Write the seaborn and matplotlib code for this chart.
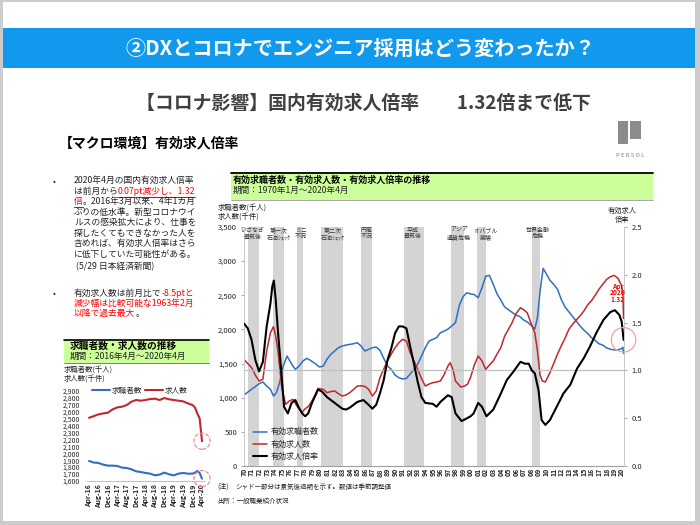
import matplotlib
matplotlib.use("Agg")
import numpy as np
import pandas as pd
import matplotlib.pyplot as plt
import seaborn as sns
from matplotlib.patches import Rectangle
from matplotlib.lines import Line2D

# ---------------- data ----------------
# main chart: 有効求職者数 (千人)
seekers_year = [1970.0, 1971.0, 1972.0, 1972.5, 1973.0, 1973.5, 1973.9, 1974.3, 1974.7, 1975.2,
                1975.7, 1976.3, 1976.8, 1977.3, 1977.8, 1978.3, 1978.8, 1979.5, 1980.0, 1980.5,
                1981.0, 1981.5, 1982.0, 1982.5, 1983.0, 1983.5, 1984.0, 1984.5, 1985.0, 1985.5,
                1986.0, 1986.5, 1987.0, 1987.5, 1988.0, 1988.5, 1989.0, 1989.5, 1990.0, 1990.5,
                1991.0, 1991.5, 1992.0, 1992.5, 1993.0, 1993.5, 1994.0, 1994.5, 1995.0, 1995.5,
                1996.0, 1996.5, 1997.0, 1997.5, 1998.0, 1998.5, 1999.0, 1999.5, 2000.0, 2000.5,
                2001.0, 2001.5, 2002.0, 2002.5, 2003.0, 2003.5, 2004.0, 2004.5, 2005.0, 2005.5,
                2006.0, 2006.5, 2007.0, 2007.5, 2008.0, 2008.5, 2008.85, 2009.2, 2009.6, 2010.0,
                2010.5, 2011.0, 2011.5, 2012.0, 2012.5, 2013.0, 2013.5, 2014.0, 2014.5, 2015.0,
                2015.5, 2016.0, 2016.5, 2017.0, 2017.5, 2018.0, 2018.5, 2019.0, 2019.5, 2020.0,
                2020.17, 2020.25]
seekers_k = [1040, 1123, 1205, 1230, 1171, 1123, 1025, 1074, 1220, 1464,
             1610, 1493, 1415, 1464, 1537, 1577, 1547, 1493, 1450, 1464,
             1566, 1635, 1684, 1732, 1757, 1771, 1781, 1790, 1805, 1757,
             1684, 1708, 1732, 1742, 1693, 1577, 1464, 1415, 1332, 1293,
             1274, 1283, 1347, 1415, 1493, 1610, 1732, 1830, 1855, 1879,
             1952, 1976, 2005, 2050, 2099, 2350, 2480, 2537, 2520, 2510,
             2464, 2610, 2780, 2790, 2660, 2520, 2430, 2330, 2290, 2250,
             2210, 2190, 2140, 2110, 2060, 2006, 2172, 2562, 2894, 2820,
             2720, 2660, 2590, 2440, 2330, 2260, 2190, 2120, 2050, 1990,
             1940, 1880, 1840, 1790, 1770, 1730, 1710, 1700, 1700, 1720,
             1740, 1650]

# main chart: 有効求人数 (千件)
offers_year = [1970.0, 1970.5, 1971.0, 1971.5, 1972.0, 1972.5, 1973.0, 1973.5, 1973.9, 1974.2,
               1974.5, 1975.0, 1975.5, 1976.0, 1976.5, 1977.0, 1977.7, 1978.0, 1978.5, 1979.0,
               1979.5, 1979.8, 1980.5, 1981.0, 1981.5, 1982.0, 1982.5, 1983.0, 1983.5, 1984.0,
               1984.5, 1985.0, 1985.5, 1986.0, 1986.5, 1987.0, 1987.5, 1988.0, 1988.5, 1989.0,
               1989.5, 1990.0, 1990.5, 1991.0, 1991.5, 1992.0, 1992.5, 1993.0, 1993.5, 1994.0,
               1994.5, 1995.0, 1995.5, 1996.0, 1996.5, 1997.0, 1997.3, 1997.7, 1998.0, 1998.7,
               1999.2, 1999.6, 2000.0, 2000.5, 2001.0, 2001.5, 2002.0, 2002.5, 2003.0, 2003.5,
               2004.0, 2004.5, 2005.0, 2005.5, 2006.0, 2006.6, 2007.0, 2007.5, 2008.0, 2008.5,
               2008.8, 2009.2, 2009.5, 2009.9, 2010.5, 2011.0, 2011.4, 2012.0, 2012.5, 2013.0,
               2013.5, 2014.0, 2014.5, 2015.0, 2015.5, 2016.0, 2016.5, 2017.0, 2017.5, 2018.0,
               2018.5, 2019.0, 2019.5, 2020.0, 2020.17, 2020.25]
offers_k = [1562, 1500, 1440, 1330, 1245, 1269, 1684, 1952, 2040, 1900,
            1684, 1147, 903, 952, 976, 878, 780, 830, 870, 952,
            1060, 1137, 1123, 1074, 1090, 1098, 1060, 1025, 1040, 1074,
            1120, 1171, 1175, 1165, 1123, 1025, 1098, 1293, 1420, 1537,
            1640, 1732, 1805, 1855, 1830, 1659, 1540, 1415, 1280, 1171,
            1200, 1220, 1230, 1245, 1340, 1464, 1513, 1400, 1245, 1157,
            1171, 1200, 1300, 1480, 1611, 1540, 1415, 1480, 1537, 1640,
            1732, 1900, 2000, 2100, 2230, 2318, 2290, 2245, 2090, 1950,
            1732, 1330, 1245, 1230, 1366, 1500, 1611, 1760, 1870, 2000,
            2074, 2140, 2200, 2270, 2360, 2420, 2500, 2590, 2660, 2733,
            2770, 2792, 2750, 2640, 2500, 2160]

# main chart: 有効求人倍率
ratio_year = [1970.0, 1970.5, 1971.0, 1971.5, 1972.0, 1972.5, 1973.0, 1973.5, 1973.75, 1973.95,
              1974.2, 1974.5, 1975.0, 1975.3, 1975.8, 1976.3, 1976.8, 1977.2, 1977.7, 1978.1,
              1978.5, 1979.0, 1979.8, 1980.3, 1981.0, 1982.0, 1983.0, 1983.5, 1984.0, 1985.0,
              1985.8, 1986.5, 1987.0, 1987.5, 1988.0, 1988.5, 1989.0, 1989.5, 1990.0, 1990.5,
              1991.0, 1991.5, 1992.0, 1992.5, 1993.0, 1993.5, 1994.0, 1995.0, 1995.5, 1996.0,
              1997.0, 1997.5, 1998.0, 1998.8, 1999.3, 2000.0, 2000.4, 2001.0, 2001.5, 2002.1,
              2003.0, 2003.9, 2004.8, 2005.7, 2006.6, 2007.2, 2007.7, 2008.1, 2008.5, 2009.0,
              2009.4, 2009.9, 2010.5, 2011.4, 2012.3, 2013.2, 2014.1, 2015.0, 2015.8, 2016.7,
              2017.6, 2018.5, 2019.1, 2019.7, 2020.0, 2020.17, 2020.25]
ratio_vals = [1.49, 1.44, 1.32, 1.11, 0.99, 1.09, 1.46, 1.70, 1.88, 1.94,
              1.74, 1.40, 0.93, 0.62, 0.55, 0.66, 0.69, 0.62, 0.55, 0.52,
              0.55, 0.66, 0.80, 0.78, 0.72, 0.66, 0.60, 0.59, 0.61, 0.67,
              0.69, 0.64, 0.60, 0.64, 0.76, 0.90, 1.11, 1.23, 1.39, 1.46,
              1.46, 1.44, 1.25, 1.07, 0.88, 0.72, 0.66, 0.65, 0.62, 0.67,
              0.74, 0.72, 0.55, 0.47, 0.49, 0.52, 0.55, 0.66, 0.62, 0.52,
              0.59, 0.74, 0.90, 0.99, 1.09, 1.07, 1.07, 1.00, 0.97, 0.79,
              0.48, 0.43, 0.48, 0.62, 0.76, 0.85, 1.02, 1.13, 1.25, 1.40,
              1.53, 1.61, 1.63, 1.58, 1.51, 1.39, 1.32]

# recession periods (景気後退期)
recession_start = [1970.58, 1973.9, 1977.05, 1980.15, 1985.45, 1991.15, 1997.45, 2000.9, 2008.15]
recession_end = [1972.0, 1975.25, 1977.85, 1983.15, 1986.95, 1993.85, 1999.1, 2002.1, 2009.25]
recession_label = ["いざなぎ\n景気後", "第一次\n石油ｼｮｯｸ", "ミニ\n不況", "第二次\n石油ｼｮｯｸ", "円高\n不況",
                   "平成\n景気後", "アジア\n通貨危機", "ITバブル\n崩壊", "世界金融\n危機"]
recession_label_x = [1971.1, 1974.6, 1977.5, 1981.8, 1986.25, 1992.35, 1998.45, 2002.0, 2008.95]

# small chart: Apr-2016 .. Apr-2020, month index 0..48
small_month = [0, 2, 4, 6, 8, 10, 12, 14, 16, 18, 20, 22, 24, 26, 28, 30, 32, 34, 36, 38,
               40, 42, 44, 45, 46, 47, 48]
small_offers = [2513, 2537, 2562, 2576, 2586, 2634, 2663, 2673, 2697, 2745, 2770, 2760, 2770, 2784,
                2789, 2770, 2799, 2780, 2770, 2760, 2750, 2721, 2697, 2663, 2576, 2504, 2175]
small_seekers = [1890, 1866, 1861, 1837, 1822, 1822, 1817, 1793, 1788, 1769, 1740, 1730, 1716, 1706,
                 1682, 1692, 1721, 1697, 1682, 1706, 1716, 1706, 1706, 1720, 1745, 1716, 1634]
small_tick_labels = ["Apr-16", "Aug-16", "Dec-16", "Apr-17", "Aug-17", "Dec-17", "Apr-18",
                     "Aug-18", "Dec-18", "Apr-19", "Aug-19", "Dec-19", "Apr-20"]

# ---------------- style ----------------
sns.set_style("white")
plt.rcParams["font.family"] = ["Noto Sans CJK JP", "DejaVu Sans"]

BLUE = "#2f6fc3"
RED = "#c0282d"
TXT_RED = "#ff0000"
GREEN = "#ccff99"
BAND = "#d4d4d4"

W, H = 700, 525
fig = plt.figure(figsize=(7, 5.25), dpi=100)
fig.patch.set_facecolor("#cccccc")


def fx(x):
    return x / W


def fy(y):
    return 1 - y / H


def rect(x0, y0, x1, y1, **kw):
    r = Rectangle((fx(x0), fy(y1)), (x1 - x0) / W, (y1 - y0) / H,
                  transform=fig.transFigure, **kw)
    fig.add_artist(r)
    return r


def hline(x0, x1, y, **kw):
    fig.add_artist(Line2D([fx(x0), fx(x1)], [fy(y), fy(y)], transform=fig.transFigure, **kw))


def ftext(x, y, s, **kw):
    kw.setdefault("va", "center")
    return fig.text(fx(x), fy(y), s, **kw)


# slide background
rect(3, 2, 695, 521, facecolor="white", edgecolor="none", zorder=-10)
# title banner
rect(3, 28, 695, 68, facecolor="#1199ee", edgecolor="none", zorder=-9)
ftext(360, 48, "②DXとコロナでエンジニア採用はどう変わったか？", color="white",
      fontsize=14.5, fontweight="bold", ha="center")
ftext(363, 103, "【コロナ影響】国内有効求人倍率　　1.32倍まで低下", color="#404040",
      fontsize=13.6, fontweight="bold", ha="center")
ftext(59, 143, "【マクロ環境】有効求人倍率", color="black", fontsize=10,
      fontweight="bold", ha="left")

# PERSOL logo
rect(618, 121, 628, 144, facecolor="#8c8c8c", edgecolor="none", zorder=-8)
rect(630, 121, 641, 139, facecolor="#8c8c8c", edgecolor="none", zorder=-8)
ftext(630, 155, "P E R S O L", color="#808080", fontsize=4.2, ha="center")

# bullet text
renderer = fig.canvas.get_renderer()


def seg_line(x0, y, segs, size=6.3):
    x = x0
    for s, c, ul in segs:
        t = ftext(x, y, s, color=c, fontsize=size, ha="left")
        bb = t.get_window_extent(renderer=renderer)
        if ul:
            hline(x, x + bb.width, y + 5.2, color=c, lw=0.8)
        x += bb.width


K = "#222222"
bullet1 = [
    [("2020年4月の国内有効求人倍率", K, False)],
    [("は前月から", K, False), ("0.07pt減少し、1.32", TXT_RED, True)],
    [("倍", TXT_RED, True), ("。2016年3月以来、4年1カ月", K, False)],
    [("ぶりの低水準。新型コロナウイ", K, False)],
    [("ルスの感染拡大により、仕事を", K, False)],
    [("探したくてもできなかった人を", K, False)],
    [("含めれば、有効求人倍率はさら", K, False)],
    [("に低下していた可能性がある。", K, False)],
    [(" (5/29 日本経済新聞)", K, False)],
]
ys1 = [180.7, 191.5, 201.8, 212.2, 222.6, 233.2, 243.8, 254.6, 266.5]
ftext(53, 181, "•", color=K, fontsize=6.3, ha="left")
for segs, y in zip(bullet1, ys1):
    seg_line(74, y, segs)

bullet2 = [
    [("有効求人数は前月比で", K, False), ("-8.5ptと", TXT_RED, False)],
    [("減少幅は比較可能な1963年2月", TXT_RED, False)],
    [("以降で過去最大", TXT_RED, False), ("。", K, False)],
]
ys2 = [293.3, 303.5, 313.7]
ftext(53, 293.5, "•", color=K, fontsize=6.3, ha="left")
for segs, y in zip(bullet2, ys2):
    seg_line(74, y, segs)

# ---------------- main chart ----------------
rect(231, 173, 653, 200, facecolor=GREEN, edgecolor="none", zorder=-8)
hline(231, 653, 173.3, color="black", lw=1.3)
hline(231, 653, 200, color="#9a9a9a", lw=0.6)
ftext(233, 180.5, "有効求職者数・有効求人数・有効求人倍率の推移", fontsize=6.5,
      fontweight="bold", ha="left", color="black")
ftext(233, 190.7, "期間：1970年1月～2020年4月", fontsize=6.2, ha="left", color="#222222")
ftext(218, 207.7, "求職者数(千人)", fontsize=5.3, ha="left", color="#222222")
ftext(218, 216.7, "求人数(千件)", fontsize=5.3, ha="left", color="#222222")
ftext(622, 210.7, "有効求人", fontsize=5.2, ha="center", color="#222222")
ftext(622, 220, "倍率", fontsize=5.2, ha="center", color="#222222")

ax = fig.add_axes([fx(244), fy(466), (624.3 - 244) / W, (466 - 227) / H])
ax.set_facecolor("none")
for s0, s1 in zip(recession_start, recession_end):
    ax.axvspan(s0, s1, color=BAND, lw=0, zorder=0)

main_df = pd.concat([
    pd.DataFrame({"year": seekers_year, "value": seekers_k, "series": "有効求職者数"}),
    pd.DataFrame({"year": offers_year, "value": offers_k, "series": "有効求人数"}),
])
sns.lineplot(data=main_df, x="year", y="value", hue="series",
             palette={"有効求職者数": BLUE, "有効求人数": RED},
             ax=ax, legend=False, linewidth=1.1, estimator=None)
ax.set_xlim(1970, 2020.35)
ax.set_ylim(0, 3500)
ax.set_xticks(range(1970, 2021))
ax.set_xticklabels([f"{y % 100:02d}" for y in range(1970, 2021)], rotation=90,
                   fontsize=5.0, fontweight="bold")
ax.set_yticks(range(0, 3501, 500))
ax.set_yticklabels([f"{v:,}" for v in range(0, 3501, 500)], fontsize=5.5)
ax.set_xlabel("")
ax.set_ylabel("")
ax.tick_params(axis="y", length=2.5, width=0.6, color="#999999", pad=2.5)
ax.tick_params(axis="x", length=0, pad=1.5)
for sp in ["top", "right"]:
    ax.spines[sp].set_visible(False)
ax.spines["left"].set_color("#c8c8c8")
ax.spines["left"].set_linewidth(0.7)
ax.spines["bottom"].set_color("#a0a0a0")
ax.spines["bottom"].set_linewidth(0.8)

for lx, lab in zip(recession_label_x, recession_label):
    ax.text(lx, 0.997, lab, transform=ax.get_xaxis_transform(), ha="center", va="top",
            fontsize=4.3, linespacing=1.25, color="#333333", zorder=3)

ax2 = ax.twinx()
ax2.axhline(1.0, color="#c0c0c0", lw=0.9, zorder=1)
ratio_df = pd.DataFrame({"year": ratio_year, "ratio": ratio_vals})
sns.lineplot(data=ratio_df, x="year", y="ratio", color="black", ax=ax2,
             linewidth=1.5, estimator=None)
ax2.set_ylim(0, 2.5)
ax2.set_xlim(1970, 2020.35)
ax2.set_yticks(np.arange(0, 2.51, 0.5))
ax2.set_yticklabels([f"{v:.1f}" for v in np.arange(0, 2.51, 0.5)], fontsize=5.5)
ax2.set_ylabel("")
ax2.tick_params(axis="y", length=2.5, width=0.6, color="#999999", pad=2.5)
for sp in ["top", "left", "bottom"]:
    ax2.spines[sp].set_visible(False)
ax2.spines["right"].set_color("#c8c8c8")
ax2.spines["right"].set_linewidth(0.7)
ax2.scatter([ratio_year[-1]], [ratio_vals[-1]], s=310, facecolors="none",
            edgecolors="#f4a0a0", linewidths=0.9, zorder=6, clip_on=False)
ftext(617.5, 286, "Apr", fontsize=4.8, fontweight="bold", ha="center", color=TXT_RED)
ftext(617.5, 292.7, "2020", fontsize=4.8, fontweight="bold", ha="center", color=TXT_RED)
ftext(617.5, 299.4, "1.32", fontsize=4.8, fontweight="bold", ha="center", color=TXT_RED)

handles = [Line2D([], [], color=BLUE, lw=1.1), Line2D([], [], color=RED, lw=1.1),
           Line2D([], [], color="black", lw=1.5)]
ax2.legend(handles, ["有効求職者数", "有効求人数", "有効求人倍率"], loc="lower left",
           bbox_to_anchor=((253 - 244) / 380, (466 - 460.5) / 239), frameon=False,
           fontsize=5.8, handlelength=1.75, handletextpad=0.4, labelspacing=0.38,
           borderpad=0, borderaxespad=0)

ftext(217, 487, "(注)", fontsize=5, ha="left", color="#222222")
ftext(235, 487, "シャドー部分は景気後退期を示す。数値は季節調整値", fontsize=4.7, ha="left",
      color="#222222")
ftext(217, 500.5, "出所：一般職業紹介状況", fontsize=4.7, ha="left", color="#222222")

# ---------------- small chart ----------------
rect(64, 340, 208.7, 363, facecolor=GREEN, edgecolor="none", zorder=-8)
hline(64, 208.7, 340.3, color="black", lw=1.2)
hline(64, 208.7, 363, color="#6a6a6a", lw=0.6)
ftext(70, 345.7, "求職者数・求人数の推移", fontsize=7, fontweight="bold", ha="left",
      color="black")
ftext(70, 356.3, "期間：2016年4月～2020年4月", fontsize=6.2, ha="left", color="#222222")
ftext(64, 369.3, "求職者数(千人)", fontsize=5.3, ha="left", color="#222222")
ftext(64, 379, "求人数(千件)", fontsize=5.3, ha="left", color="#222222")

ax_s = fig.add_axes([fx(87), fy(481), 117 / W, 90 / H])
ax_s.set_facecolor("none")
small_df = pd.concat([
    pd.DataFrame({"month": small_month, "value": small_seekers, "series": "求職者数"}),
    pd.DataFrame({"month": small_month, "value": small_offers, "series": "求人数"}),
])
sns.lineplot(data=small_df, x="month", y="value", hue="series",
             palette={"求職者数": BLUE, "求人数": RED}, ax=ax_s, legend=False,
             linewidth=1.5, estimator=None)
ax_s.set_xlim(-0.85, 48.85)
ax_s.set_ylim(1600, 2900)
ax_s.set_xticks(range(0, 49, 4))
ax_s.set_xticklabels(small_tick_labels, rotation=90, fontsize=5, fontweight="bold")
ax_s.set_yticks(range(1600, 2901, 100))
ax_s.set_yticklabels([f"{v:,}" for v in range(1600, 2901, 100)], fontsize=5)
ax_s.set_xlabel("")
ax_s.set_ylabel("")
ax_s.tick_params(axis="y", length=0, pad=5)
ax_s.tick_params(axis="x", length=0, pad=2)
for sp in ["top", "right", "left"]:
    ax_s.spines[sp].set_visible(False)
ax_s.spines["bottom"].set_color("#bfbfbf")
ax_s.spines["bottom"].set_linewidth(0.7)
ax_s.scatter([small_month[-1]], [small_offers[-1]], s=135, facecolors="none",
             edgecolors="#f08080", linewidths=0.8, linestyle="--", zorder=6, clip_on=False)
ax_s.scatter([small_month[-1]], [small_seekers[-1]], s=135, facecolors="none",
             edgecolors="#f08080", linewidths=0.8, linestyle="--", zorder=6, clip_on=False)
shandles = [Line2D([], [], color=BLUE, lw=1.5), Line2D([], [], color=RED, lw=1.5)]
ax_s.legend(shandles, ["求職者数", "求人数"], loc="center left",
            bbox_to_anchor=((91.5 - 87) / 117, 1.0), ncol=2, frameon=False, fontsize=5.5,
            handlelength=2.4, handletextpad=0.2, columnspacing=0.4, borderpad=0,
            borderaxespad=0)

fig.savefig("out.png", dpi=100, facecolor=fig.get_facecolor())
